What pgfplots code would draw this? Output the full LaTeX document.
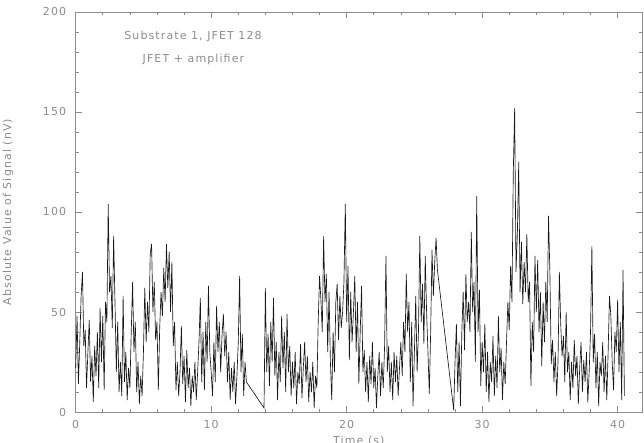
\documentclass[border=0pt]{standalone}
\usepackage{pgfplots}
\pgfplotsset{compat=1.18}
\usepackage{fontspec}
\setmainfont[LetterSpace=10]{DejaVu Sans}
\definecolor{axgray}{gray}{0.55}
\begin{document}
\begin{tikzpicture}
\path[use as bounding box] (-75.7pt,-31pt) rectangle (568.3pt,412pt);
\begin{axis}[
  scale only axis,
  width=566.3pt, height=400pt,
  xmin=0, xmax=41.8, ymin=0, ymax=200,
  xtick={0,10,20,30,40}, minor x tick num=4,
  ytick={0,50,100,150,200}, minor y tick num=4,
  tick align=inside,
  major tick length=6pt, minor tick length=3pt,
  axis line style={axgray, line width=0.6pt},
  every tick/.style={axgray, line width=0.6pt},
  /pgf/number format/assume math mode=true,
  tick label style={font=\fontsize{11}{13}\selectfont, text=axgray},
  label style={font=\fontsize{11}{13}\selectfont, text=axgray},
  yticklabel style={xshift=-6pt},
  xticklabel style={yshift=-5pt},
  xlabel={Time (s)},
  ylabel={Absolute Value of Signal (nV)},
  every axis y label/.style={at={(axis description cs:-0.1195,0.5)}, rotate=90, anchor=center, font=\fontsize{11}{13}\selectfont, text=axgray},
  clip=false,
]
\addplot[black!90, line width=0.65pt] coordinates {
(0,22)(0.1,48)(0.2,14)(0.3,35)(0.4,58)(0.5,70)(0.6,33)(0.7,41)(0.8,12)(0.9,30)
(1,46)(1.1,15)(1.2,28)(1.3,5)(1.4,33)(1.5,18)(1.6,40)(1.7,12)(1.8,52)(1.9,25)
(2,48)(2.1,11)(2.2,55)(2.3,45)(2.4,104)(2.5,60)(2.6,68)(2.7,42)(2.8,88)(2.9,55)
(3,20)(3.1,45)(3.2,10)(3.3,25)(3.4,8)(3.5,58)(3.6,15)(3.7,30)(3.8,6)(3.9,22)
(4,12)(4.1,40)(4.2,65)(4.3,30)(4.4,45)(4.5,10)(4.6,25)(4.7,4)(4.8,18)(4.9,8)
(5,30)(5.1,62)(5.2,35)(5.3,55)(5.4,40)(5.5,79)(5.6,84)(5.7,50)(5.8,65)(5.9,36)
(6,45)(6.1,11)(6.2,42)(6.3,60)(6.4,48)(6.5,72)(6.6,55)(6.7,84)(6.8,62)(6.9,80)
(7,50)(7.1,75)(7.2,33)(7.3,45)(7.4,11)(7.5,25)(7.6,8)(7.7,20)(7.8,43)(7.9,14)
(8,28)(8.1,5)(8.2,31)(8.3,12)(8.4,22)(8.5,3)(8.6,18)(8.7,10)(8.8,25)(8.9,6)
(9,20)(9.1,35)(9.2,57)(9.3,15)(9.4,40)(9.5,11)(9.6,45)(9.7,25)(9.8,63)(9.9,30)
(10,20)(10.1,8)(10.2,35)(10.3,15)(10.4,53)(10.5,30)(10.6,45)(10.7,20)(10.8,38)(10.9,49)
(11,28)(11.1,40)(11.2,15)(11.3,30)(11.4,6)(11.5,22)(11.6,10)(11.7,25)(11.8,4)(11.9,18)
(12,35)(12.1,68)(12.2,20)(12.3,39)(12.4,8)(12.5,25)(12.6,15)
(13.9,2)
(14,62)(14.1,20)(14.2,39)(14.3,13)(14.4,45)(14.5,25)(14.6,57)(14.7,18)(14.8,35)(14.9,6)
(15,30)(15.1,15)(15.2,48)(15.3,22)(15.4,40)(15.5,10)(15.6,49)(15.7,20)(15.8,33)(15.9,8)
(16,25)(16.1,12)(16.2,30)(16.3,4)(16.4,20)(16.5,14)(16.6,34)(16.7,7)(16.8,22)(16.9,35)
(17,15)(17.1,28)(17.2,5)(17.3,20)(17.4,10)(17.5,25)(17.6,2)(17.7,18)(17.8,12)(17.9,45)
(18,68)(18.1,56)(18.2,40)(18.3,88)(18.4,55)(18.5,69)(18.6,30)(18.7,60)(18.8,25)(18.9,6)
(19,40)(19.1,20)(19.2,55)(19.3,64)(19.4,36)(19.5,58)(19.6,42)(19.7,50)(19.8,65)(19.9,104)
(20,45)(20.1,73)(20.2,26)(20.3,60)(20.4,35)(20.5,50)(20.6,68)(20.7,30)(20.8,55)(20.9,14)
(21,40)(21.1,63)(21.2,20)(21.3,31)(21.4,10)(21.5,25)(21.6,5)(21.7,28)(21.8,14)(21.9,35)
(22,12)(22.1,22)(22.2,2)(22.3,18)(22.4,30)(22.5,8)(22.6,25)(22.7,12)(22.8,33)(22.9,78)
(23,20)(23.1,33)(23.2,10)(23.3,25)(23.4,6)(23.5,30)(23.6,15)(23.7,28)(23.8,8)(23.9,22)
(24,35)(24.1,18)(24.2,45)(24.3,30)(24.4,69)(24.5,40)(24.6,55)(24.7,15)(24.8,45)(24.9,3)
(25,30)(25.1,58)(25.2,20)(25.3,40)(25.4,88)(25.5,45)(25.6,64)(25.7,34)(25.8,78)(25.9,50)
(26,30)(26.1,9)(26.2,40)(26.3,81)(26.4,58)(26.5,75)(26.6,87)(26.7,71)
(27.9,1)
(28,25)(28.1,44)(28.2,10)(28.3,35)(28.4,3)(28.5,40)(28.6,60)(28.7,31)(28.8,69)(28.9,45)
(29,55)(29.1,40)(29.2,90)(29.3,50)(29.4,65)(29.5,25)(29.6,108)(29.7,40)(29.8,61)(29.9,13)
(30,35)(30.1,20)(30.2,44)(30.3,10)(30.4,30)(30.5,5)(30.6,25)(30.7,15)(30.8,38)(30.9,8)
(31,28)(31.1,12)(31.2,48)(31.3,20)(31.4,32)(31.5,6)(31.6,25)(31.7,14)(31.8,35)(31.9,55)
(32,41)(32.1,73)(32.2,55)(32.3,120)(32.4,152)(32.5,70)(32.6,89)(32.7,125)(32.8,60)(32.9,85)
(33,54)(33.1,75)(33.2,60)(33.3,89)(33.4,55)(33.5,65)(33.6,13)(33.7,45)(33.8,30)(33.9,78)
(34,50)(34.1,76)(34.2,40)(34.3,60)(34.4,23)(34.5,55)(34.6,35)(34.7,65)(34.8,45)(34.9,98)
(35,70)(35.1,24)(35.2,36)(35.3,15)(35.4,30)(35.5,8)(35.6,25)(35.7,70)(35.8,44)(35.9,28)
(36,38)(36.1,15)(36.2,50)(36.3,20)(36.4,30)(36.5,6)(36.6,25)(36.7,12)(36.8,36)(36.9,18)
(37,28)(37.1,4)(37.2,22)(37.3,35)(37.4,10)(37.5,26)(37.6,15)(37.7,30)(37.8,5)(37.9,20)
(38,40)(38.1,83)(38.2,25)(38.3,39)(38.4,12)(38.5,30)(38.6,3)(38.7,25)(38.8,18)(38.9,35)
(39,10)(39.1,28)(39.2,6)(39.3,30)(39.4,58)(39.5,48)(39.6,25)(39.7,11)(39.8,40)(39.9,30)
(40,56)(40.1,20)(40.2,45)(40.3,6)(40.4,71)(40.5,8)
};
\node[font=\fontsize{11}{13}\selectfont, text=axgray] at (axis cs:8.66,188) {Substrate 1, JFET 128};
\node[font=\fontsize{11}{13}\selectfont, text=axgray] at (axis cs:8.69,176.5) {JFET + amplifier};
\end{axis}
\end{tikzpicture}
\end{document}
